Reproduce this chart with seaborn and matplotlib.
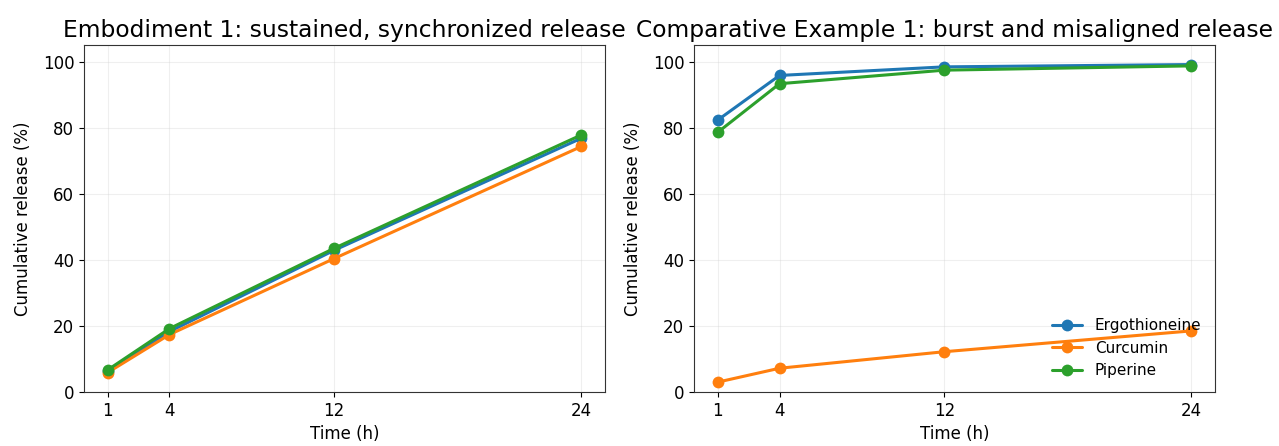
import pandas as pd
import matplotlib
matplotlib.use("Agg")
import matplotlib.pyplot as plt
import seaborn as sns

time_h = [1, 4, 12, 24]
compounds = ["Ergothioneine", "Curcumin", "Piperine"]

# Embodiment 1
emb_ergo = [6.3, 18.3, 42.9, 76.8]
emb_curc = [5.9, 17.4, 40.4, 74.3]
emb_pip = [6.7, 19.2, 43.5, 77.8]

# Comparative Example 1
cmp_ergo = [82.3, 95.8, 98.4, 99.1]
cmp_curc = [3.0, 7.2, 12.2, 18.5]
cmp_pip = [78.6, 93.3, 97.4, 98.7]

titles = ["Embodiment 1: sustained, synchronized release",
          "Comparative Example 1: burst and misaligned release"]


def to_long(ergo, curc, pip):
    rows = []
    for name, vals in zip(compounds, [ergo, curc, pip]):
        for t, v in zip(time_h, vals):
            rows.append({"Time (h)": t, "release": v, "compound": name})
    return pd.DataFrame(rows)


panels = [to_long(emb_ergo, emb_curc, emb_pip), to_long(cmp_ergo, cmp_curc, cmp_pip)]

sns.set_style("ticks", {"axes.edgecolor": "0.2", "text.color": "black",
                        "axes.labelcolor": "black", "xtick.color": "black",
                        "ytick.color": "black"})
plt.rcParams["font.family"] = ["DejaVu Sans"]
palette = dict(zip(compounds, ["#1f77b4", "#ff7f0e", "#2ca02c"]))

fig, axes = plt.subplots(1, 2, figsize=(12.79, 4.46), dpi=100)
fig.subplots_adjust(left=0.0657, right=0.950, bottom=0.121, top=0.899, wspace=0.171)

for i, (ax, df) in enumerate(zip(axes, panels)):
    sns.lineplot(data=df, x="Time (h)", y="release", hue="compound", palette=palette,
                 marker="o", markersize=8.5, markeredgewidth=0, linewidth=2.2,
                 ax=ax, legend=(i == 1))
    ax.set_title(titles[i], fontsize=16.8)
    ax.set_xlabel("Time (h)", fontsize=12)
    ax.set_ylabel("Cumulative release (%)", fontsize=12, labelpad=8)
    ax.set_xticks(time_h)
    ax.set_ylim(0, 105)
    ax.tick_params(labelsize=12)
    ax.grid(True, alpha=0.3)
    for s in ax.spines.values():
        s.set_visible(True)

leg = axes[1].legend(loc="lower right", frameon=False, fontsize=11)

fig.savefig("out.png", dpi=100)
